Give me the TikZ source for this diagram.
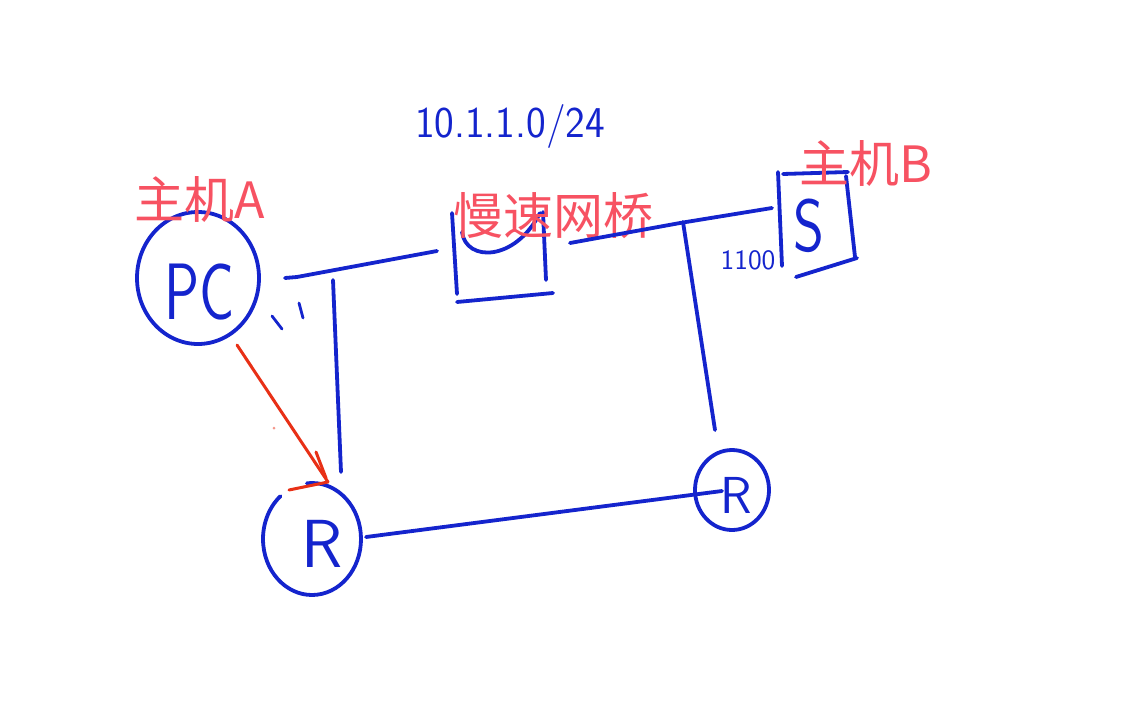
\documentclass[tikz,border=0pt]{standalone}
\usepackage{fontspec}
\newfontfamily\cjk{Noto Sans CJK SC}
\usetikzlibrary{shapes.geometric}
\definecolor{ink}{RGB}{20,36,205}
\definecolor{lab}{RGB}{247,82,98}
\definecolor{pen}{RGB}{232,48,22}
\begin{document}
\begin{tikzpicture}[x=0.5pt,y=-0.5pt,
  wire/.style={ink, line width=1.9pt, line cap=round, line join=round},
  tick/.style={ink, line width=1.4pt, line cap=round},
  redpen/.style={pen, line width=1.5pt, line cap=round},
  hand/.style={ink, inner sep=0pt, font=\sffamily},
  cjklab/.style={lab, inner sep=0pt, font=\cjk\fontsize{25}{25}\selectfont},
  hostcirc/.style={ellipse, inner sep=0pt, draw=ink, line width=1.9pt}]
\fill[white] (0,0) rectangle (1140,722);
\useasboundingbox (0,0) rectangle (1140,722);

% host A
\node[hostcirc, minimum width=61pt, minimum height=66pt] (pc) at (198,278) {};
\node[hand, font=\sffamily\fontsize{40}{40}\selectfont] (pctxt) at (200,292) {\scalebox{0.73}[1]{PC}};
\node[cjklab] (la) at (200,199) {主机A};

% routers
\node[ellipse, inner sep=0pt, minimum width=49pt, minimum height=56pt] (r1) at (312,539) {};
\draw[wire] (312,539) ++(264:49 and 56) arc[start angle=264, end angle=590, x radius=49, y radius=56];
\node[hand, font=\sffamily\fontsize{34}{34}\selectfont] (r1txt) at (322,544) {R};
\node[hostcirc, minimum width=37pt, minimum height=40pt] (r2) at (732,490) {};
\node[hand, font=\sffamily\fontsize{26}{26}\selectfont] (r2txt) at (736,495) {R};

% slow bridge
\node[inner sep=0pt, minimum width=50pt, minimum height=45pt] (bridge) at (500,255) {};
\draw[wire] (452,213) -- (457,294);
\draw[wire] (457,302) -- (553,293);
\draw[wire] (543,212) -- (546,280);
\draw[wire] (462,232) .. controls (466,262) and (515,262) .. (540,213);
\node[cjklab] (lbr) at (553,216) {慢速网桥};
\node[hand, font=\sffamily\fontsize{22}{22}\selectfont] (ip) at (510,127) {\scalebox{0.95}[1]{10.1.1.0/24}};

% switch / host B
\node[inner sep=0pt, minimum width=37pt, minimum height=50pt] (sw) at (815,222) {};
\draw[wire] (778,172) -- (782,266);
\draw[wire] (783,174) -- (848,172);
\draw[wire] (846,176) -- (855,257);
\draw[wire] (796,277) -- (857,258);
\node[hand, font=\sffamily\fontsize{37}{37}\selectfont] (stxt) at (809,226) {\scalebox{0.8}[1]{S}};
\node[cjklab] (lb) at (866,163) {主机B};
\node[hand, font=\sffamily\fontsize{14}{14}\selectfont] (port) at (748,260) {1100};

% connector end points
\coordinate (pcE) at (285,278);
\coordinate (brW) at (437,251);
\coordinate (brE) at (570,243);
\coordinate (swW) at (772,208);
\coordinate (dropL) at (333,280);
\coordinate (r1N) at (341,472);
\coordinate (dropR) at (683,222);
\coordinate (r2N) at (715,430);
\coordinate (r1E) at (366,537);
\coordinate (r2W) at (722,491);
\coordinate (pcS) at (237,345);
\coordinate (r1T) at (328,482);

% links
\draw[wire] (pcE) -- (297,277) -- (brW);
\draw[wire] (brE) -- (680,223) -- (swW);
\draw[wire] (dropL) -- (r1N);
\draw[wire] (dropR) -- (r2N);
\draw[wire] (r1E) -- (r2W);

% tick marks
\draw[tick] (272,316) -- (282,329);
\draw[tick] (299,303) -- (303,318);

% red arrow
\draw[redpen] (pcS) -- (r1T);
\draw[redpen] (316,452) -- (326,478);
\draw[redpen] (289,490) -- (r1T);
\fill[pen!50] (274,428) circle (1.5);
\end{tikzpicture}
\end{document}
